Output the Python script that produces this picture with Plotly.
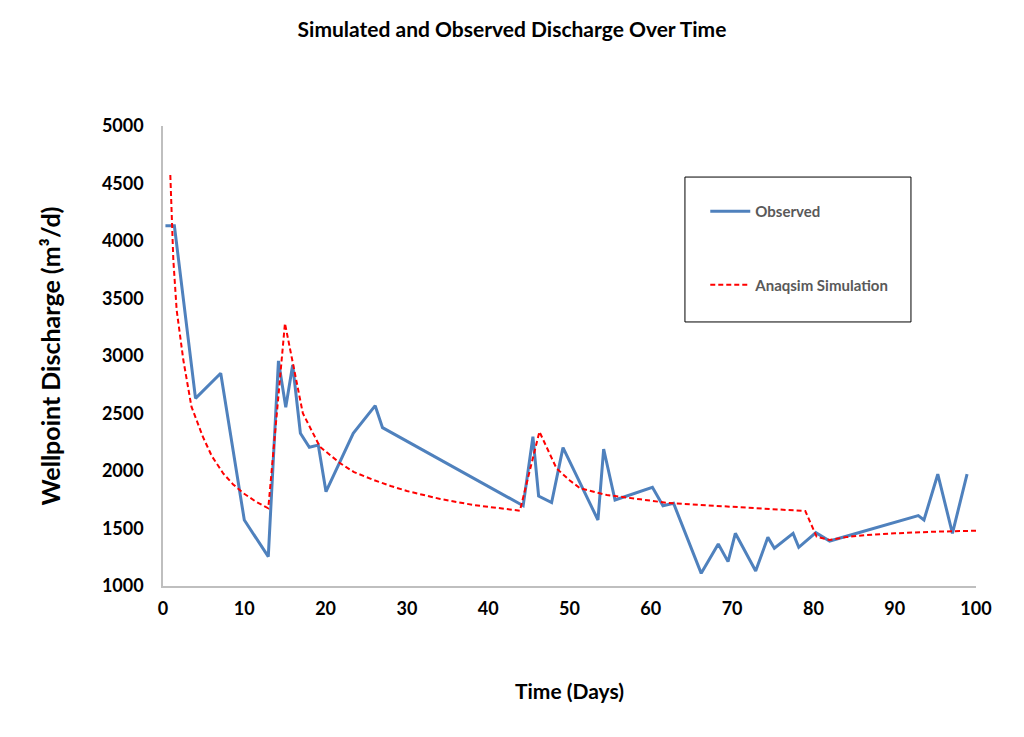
import plotly.graph_objects as go

obs_days = [0.3, 1.4, 4.0, 7.1, 10.0, 12.95, 14.2, 15.1, 15.95, 16.9, 18.0, 19.1, 20.05,
            23.4, 26.1, 27.0, 44.3, 45.5, 46.2, 47.8, 49.2, 53.5, 54.2, 55.6, 60.2, 61.5,
            62.8, 66.2, 68.3, 69.5, 70.4, 72.9, 74.4, 75.2, 77.5, 78.2, 80.3, 82.0, 92.9,
            93.6, 95.3, 97.1, 98.9]
obs_q = [4133, 4133, 2632, 2850, 1574, 1255, 2957, 2554, 2922, 2328, 2206, 2226, 1820,
         2328, 2568, 2377, 1698, 2299, 1783, 1725, 2203, 1574, 2191, 1748, 1858, 1698,
         1719, 1110, 1365, 1212, 1458, 1130, 1423, 1328, 1458, 1336, 1464, 1391, 1612,
         1574, 1972, 1458, 1972]

sim_days = [0.9, 1.27, 1.68, 2.5, 3.5, 4.9, 6.0, 7.4, 8.6, 9.9, 11.4, 12.95, 15.0, 16.0,
            17.2, 19.3, 21.8, 23.5, 25.9, 28.0, 30.0, 34.1, 38.2, 43.9, 46.3, 48.4, 50.0,
            51.3, 54.6, 58.7, 61.9, 66.0, 70.1, 75.0, 79.0, 80.4, 82.0, 84.0, 86.5,
            90.0, 94.7, 100.0]
sim_q = [4574, 3835, 3400, 2965, 2559, 2298, 2130, 1980, 1885, 1806, 1735, 1676, 3284,
         2937, 2502, 2211, 2067, 1990, 1922, 1870, 1826, 1757, 1704, 1655, 2342, 2023,
         1920, 1850, 1791, 1754, 1724, 1705, 1690, 1670, 1652, 1429, 1400, 1425, 1443,
         1458, 1472, 1481]

x_ticks = list(range(0, 101, 10))
y_ticks = list(range(1000, 5001, 500))

font_family = "Lato, 'Open Sans', sans-serif"

fig = go.Figure()
fig.add_trace(go.Scatter(x=obs_days, y=obs_q, mode="lines", name="<b>Observed</b>",
                         line=dict(color="#4F81BD", width=3), legendgroup="a"))
fig.add_trace(go.Scatter(x=sim_days, y=sim_q, mode="lines", name="<b>Anaqsim Simulation</b>",
                         line=dict(color="#FF0000", width=2, dash="5px,3px"), legendgroup="b"))

fig.update_layout(
    width=1024, height=737,
    margin=dict(l=163, r=48, t=126, b=151),
    paper_bgcolor="white", plot_bgcolor="white",
    font=dict(family=font_family, color="black"),
    title=dict(text="<b>Simulated and Observed Discharge Over Time</b>",
               x=0.5, xanchor="center", y=0.96, yanchor="middle",
               font=dict(size=21, color="black", family=font_family)),
    showlegend=True,
    legend=dict(x=0.667, y=0.85, xanchor="left", yanchor="top",
                bgcolor="rgba(0,0,0,0)", borderwidth=0,
                tracegroupgap=51, itemwidth=40,
                font=dict(size=15, color="#595959", family=font_family)),
    shapes=[dict(type="rect", xref="paper", yref="paper",
                 x0=0.642, x1=0.920, y0=0.574, y1=0.889,
                 line=dict(color="black", width=1), fillcolor="rgba(0,0,0,0)")],
)
fig.update_xaxes(range=[0, 100], tickvals=x_ticks, ticktext=[f"<b>{v}</b>" for v in x_ticks],
                 showgrid=False, zeroline=False, showline=True, linecolor="#BFBFBF", linewidth=1.5,
                 ticks="", ticklabelstandoff=6, tickfont=dict(size=18, color="black"),
                 title=dict(text="<b>Time (Days)</b>", font=dict(size=21, color="black"), standoff=66))
fig.update_yaxes(range=[1000, 5000], tickvals=y_ticks, ticktext=[f"<b>{v}</b>" for v in y_ticks],
                 showgrid=False, zeroline=False, showline=True, linecolor="#BFBFBF", linewidth=1.5,
                 ticks="", ticklabelstandoff=14, tickfont=dict(size=18, color="black"),
                 title=dict(text="<b>Wellpoint Discharge (m³/d)</b>", font=dict(size=25, color="black"),
                            standoff=34))

fig.write_html("out.html")
